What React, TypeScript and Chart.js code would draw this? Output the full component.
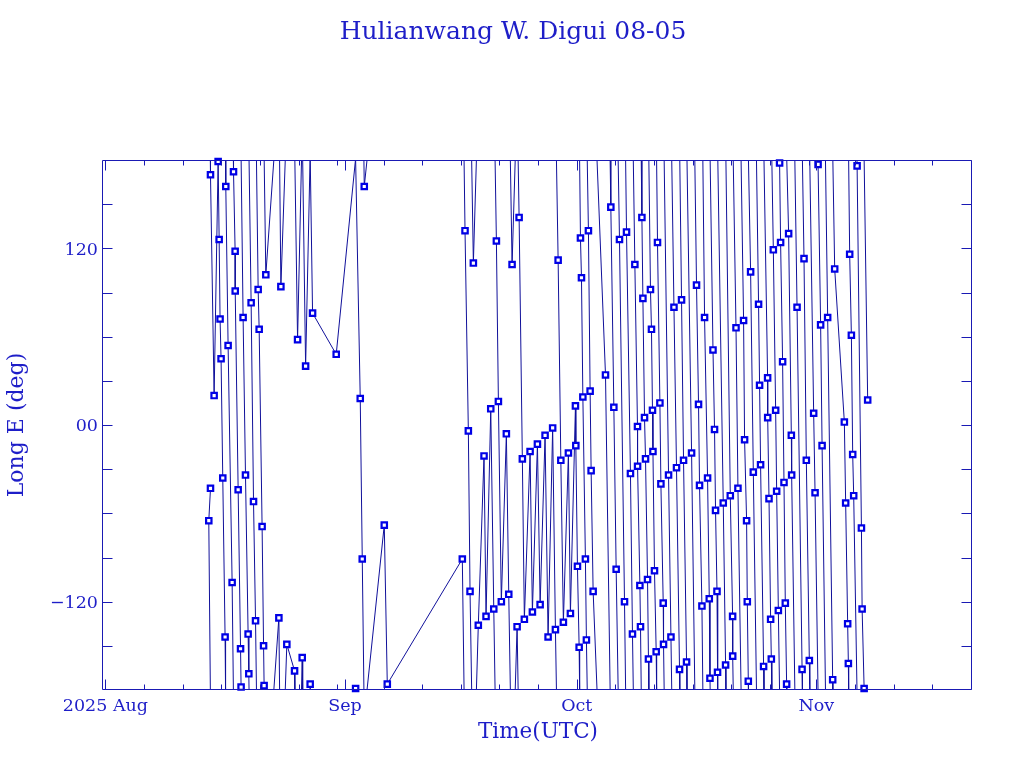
import React, { useEffect, useRef } from "react";
import { Chart, registerables } from "chart.js";

Chart.register(...registerables);

// ---------------- text ----------------
const TITLE = "Hulianwang W. Digui 08-05";
const X_TITLE = "Time(UTC)";
const Y_TITLE = "Long E (deg)";

// ---------------- axes ----------------
// time axis in days since 2025-08-01 00:00 UTC
const X_MIN = -0.44;
const X_MAX = 112.15;
const MONTH_DAYS = [0, 31, 61, 92];
const MONTH_LABELS = ["2025 Aug", "Sep", "Oct", "Nov"];
const MINOR_DAYS = [5, 10, 15, 20, 25, 30, 36, 41, 46, 51, 56, 66, 71, 76, 81, 86, 91, 97, 102, 107, 112];

const Y_MIN = -180;
const Y_MAX = 180;
const Y_MAJOR = [-120, 0, 120];
const Y_MAJOR_LABELS = ["\u2212120", "00", "120"];
const Y_MINOR = [-150, -90, -60, -30, 30, 60, 90, 150];

// ---------------- data (epoch day, east longitude deg), in catalogue order ----------------
const augDays = [13.60, 13.38, 13.60, 14.07, 14.59, 14.72, 14.84, 14.97, 15.19, 15.49, 15.58, 15.88, 16.40, 16.58, 16.79, 16.80, 17.18, 17.49, 17.56, 17.82, 18.13, 18.47, 18.56, 18.86, 19.17, 19.43, 19.77, 19.90, 20.28, 20.47, 20.54, 20.76, 22.45, 22.71, 23.48, 24.48, 24.87, 25.47, 25.91, 26.50, 26.81, 29.87];
const augLons = [-43, -65, 170, 20, 179, 126, 72, 45, -36, -144, 162, 54, -107, 172, 118, 91, -44, -152, -178, 73, -34, -142, -169, 83, -52, -133, 92, 65, -69, -150, -177, 102, -131, 94, -149, -167, 58, -158, 40, -176, 76, 48];

const sepDays = [32.38, 32.98, 33.24, 33.50, 36.09, 36.48, 46.19];
const sepLons = [-179, 18, -91, 162, -68, -176, -91];

const lateSepDays = [46.54, 46.97, 47.19, 47.62, 48.26, 49.00, 49.26, 49.87, 50.26, 50.60, 50.86, 51.24, 51.89, 52.20, 52.63, 53.28, 53.54, 53.96, 54.22, 54.96, 55.26, 55.91, 56.26, 56.90, 57.29, 57.88, 58.24, 58.59, 58.94, 59.27, 59.92, 60.18, 60.83, 60.88, 61.09, 61.31, 61.48, 61.61, 61.79, 62.12, 62.25, 62.51, 62.73, 62.86, 63.12];
const lateSepLons = [132, -4, -113, 110, -136, -21, -130, 11, -125, 125, 16, -120, -6, -115, 109, -137, 141, -23, -132, -18, -127, -13, -122, -7, -144, -2, -139, 112, -24, -134, -19, -128, 13, -14, -96, -151, 127, 100, 19, -91, -146, 132, 23, -31, -113];

const octDays = [64.72, 65.41, 65.80, 66.10, 66.53, 67.18, 67.44, 67.95, 68.21, 68.52, 68.86, 68.87, 69.17, 69.25, 69.43, 69.56, 69.77, 69.90, 70.16, 70.28, 70.54, 70.67, 70.80, 70.86, 71.06, 71.28, 71.45, 71.76, 71.89, 72.19, 72.23, 72.88, 73.19, 73.58, 73.91, 74.30, 74.56, 74.82, 75.21, 75.86, 76.50, 76.76, 76.89, 77.20, 77.54, 77.93, 78.15, 78.24, 78.63, 78.83, 78.96, 79.15, 79.22, 79.96, 80.26];
const octLons = [34, 148, 12, -98, 126, -120, 131, -33, -142, 109, -1, -28, -109, -137, 141, 86, 5, -23, -105, -159, 92, 65, 10, -18, -99, -154, 124, 15, -40, -121, -149, -34, -144, 80, -29, -166, 85, -24, -161, -19, 95, 14, -41, -123, 73, -36, -118, -172, 51, -3, -58, -113, -168, -53, -163];

const novDays = [80.87, 81.17, 81.18, 81.61, 81.86, 82.59, 82.72, 82.98, 83.07, 83.20, 83.50, 83.85, 84.53, 84.66, 84.79, 85.18, 85.70, 85.71, 85.88, 86.09, 86.18, 86.44, 86.74, 86.87, 87.09, 87.25, 87.38, 87.64, 87.82, 87.99, 88.16, 88.42, 88.77, 88.81, 89.51, 90.16, 90.41, 90.71, 91.10, 91.66, 91.84, 92.23, 92.56, 92.75, 93.47, 94.12, 94.38, 95.63, 95.80, 96.06, 96.15, 96.32, 96.54, 96.71, 96.84, 97.28, 97.84, 97.93, 98.19, 98.65];
const novLons = [-48, -130, -157, 66, -43, 71, -10, -65, -120, -174, 104, -32, 82, 27, -27, -164, 32, 5, -50, -132, -159, 119, 10, -45, -126, 178, 124, 43, -39, -121, -176, 130, -7, -34, 80, -166, 113, -24, -160, 8, -46, 177, 68, -14, 73, -173, 106, 2, -53, -135, -162, 116, 61, -20, -48, 176, -70, -125, -179, 17];

// From this epoch on, joins shorter than WEST_GAP days follow the westward drift;
// all other joins go the shorter way round the globe.
const WEST_FROM_DAY = 63;
const WEST_GAP = 2;

// ---------------- style ----------------
const FONT = '"DejaVu Serif", serif';
const TEXT_COLOR = "#1e1ec8";
const FRAME_COLOR = "#1a1ab4";
const LINE_COLOR = "#10109a";
const MARKER_COLOR = "#0000e6";

type P = { x: number; y: number | null };

function buildTrack(days: number[], lons: number[]): P[] {
  const pts: P[] = [];
  for (let i = 0; i < days.length; i++) {
    if (i > 0) {
      const d0 = days[i - 1], l0 = lons[i - 1];
      const d1 = days[i], l1 = lons[i];
      let diff = l1 - l0;
      if (d0 >= WEST_FROM_DAY && Math.abs(d1 - d0) <= WEST_GAP) {
        if (diff > 0) diff -= 360;
      } else {
        if (diff > 180) diff -= 360;
        else if (diff < -180) diff += 360;
      }
      const end = l0 + diff;
      if (end > Y_MAX || end < Y_MIN) {
        const edge = end > Y_MAX ? Y_MAX : Y_MIN;
        const f = (edge - l0) / diff;
        const dc = d0 + f * (d1 - d0);
        pts.push({ x: dc, y: edge });
        pts.push({ x: dc, y: null });
        pts.push({ x: dc, y: -edge });
      }
    }
    pts.push({ x: days[i], y: lons[i] });
  }
  return pts;
}

const framePlugin = {
  id: "pgFrame",
  afterDraw(chart: any) {
    const { ctx, chartArea: a, scales } = chart;
    const xs = scales.x;
    const ys = scales.y;
    const L = Math.round(a.left) + 0.5;
    const R = Math.round(a.right) - 0.5;
    const T = Math.round(a.top) + 0.5;
    const B = Math.round(a.bottom) - 0.5;
    ctx.save();
    ctx.strokeStyle = FRAME_COLOR;
    ctx.lineWidth = 1;
    ctx.beginPath();
    ctx.rect(L, T, R - L, B - T);
    const yTick = (v: number, len: number) => {
      const y = Math.round(ys.getPixelForValue(v)) + 0.5;
      ctx.moveTo(L, y); ctx.lineTo(L + len, y);
      ctx.moveTo(R, y); ctx.lineTo(R - len, y);
    };
    Y_MAJOR.forEach((v) => yTick(v, 10));
    Y_MINOR.forEach((v) => yTick(v, 10));
    const xTick = (v: number, len: number) => {
      const x = Math.round(xs.getPixelForValue(v)) + 0.5;
      ctx.moveTo(x, B); ctx.lineTo(x, B - len);
      ctx.moveTo(x, T); ctx.lineTo(x, T + len);
    };
    MONTH_DAYS.forEach((v) => xTick(v, 10));
    MINOR_DAYS.forEach((v) => xTick(v, 5));
    ctx.stroke();

    ctx.fillStyle = TEXT_COLOR;
    ctx.textBaseline = "alphabetic";
    ctx.font = `25px ${FONT}`;
    ctx.textAlign = "center";
    ctx.fillText(TITLE, 513, 39);

    ctx.font = `17.5px ${FONT}`;
    ctx.textAlign = "center";
    MONTH_DAYS.forEach((v, i) => {
      ctx.fillText(MONTH_LABELS[i], xs.getPixelForValue(v), 711);
    });
    ctx.textAlign = "right";
    Y_MAJOR.forEach((v, i) => {
      ctx.fillText(Y_MAJOR_LABELS[i], 98, ys.getPixelForValue(v) + 6.4);
    });

    ctx.font = `21.5px ${FONT}`;
    ctx.textAlign = "center";
    ctx.fillText(X_TITLE, 538, 738);

    ctx.save();
    ctx.translate(23, (a.top + a.bottom) / 2);
    ctx.rotate(-Math.PI / 2);
    ctx.font = `22px ${FONT}`;
    ctx.textAlign = "center";
    ctx.fillText(Y_TITLE, 0, 0);
    ctx.restore();

    ctx.restore();
  },
};

export default function App() {
  const ref = useRef<HTMLCanvasElement | null>(null);

  useEffect(() => {
    const canvas = ref.current;
    if (!canvas) return;
    const days = [...augDays, ...sepDays, ...lateSepDays, ...octDays, ...novDays];
    const lons = [...augLons, ...sepLons, ...lateSepLons, ...octLons, ...novLons];
    const markers = days.map((d, i) => ({ x: d, y: lons[i] }));
    const track = buildTrack(days, lons);

    const chart = new Chart(canvas, {
      type: "scatter",
      data: {
        datasets: [
          {
            data: markers,
            showLine: false,
            pointStyle: "rect",
            pointRadius: 3.8,
            backgroundColor: "#ffffff",
            borderColor: MARKER_COLOR,
            borderWidth: 2.2,
            clip: false,
            order: 0,
          } as any,
          {
            data: track,
            showLine: true,
            spanGaps: false,
            borderColor: LINE_COLOR,
            borderWidth: 1,
            pointRadius: 0,
            order: 1,
          } as any,
        ],
      },
      options: {
        responsive: false,
        maintainAspectRatio: false,
        devicePixelRatio: 1,
        animation: false,
        events: [],
        layout: { padding: { left: 102, right: 52, top: 160, bottom: 78 } },
        scales: {
          x: { type: "linear", min: X_MIN, max: X_MAX, display: false },
          y: { type: "linear", min: Y_MIN, max: Y_MAX, display: false },
        },
        plugins: {
          legend: { display: false },
          tooltip: { enabled: false },
          title: { display: false },
        },
      },
      plugins: [framePlugin],
    });
    return () => chart.destroy();
  }, []);

  return (
    <div style={{ position: "fixed", left: 0, top: 0, width: 1024, height: 768, background: "#ffffff" }}>
      <canvas ref={ref} width={1024} height={768} style={{ display: "block", width: 1024, height: 768 }} />
    </div>
  );
}
